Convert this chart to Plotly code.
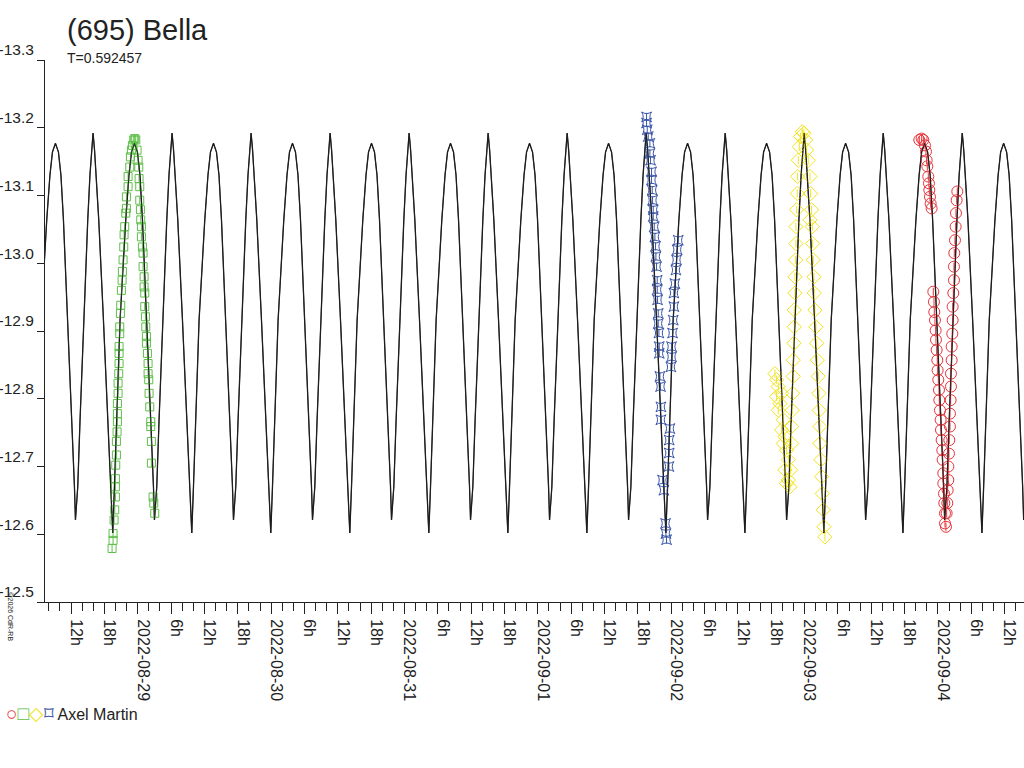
import pandas as pd
import plotly.graph_objects as go

base = pd.Timestamp("2022-08-28")
period_days = 0.592457

# model lightcurve, one rotation (hours from a minimum, mag)
curve_h = [0.000, 0.306, 0.720, 1.314, 2.340, 2.916, 3.366, 3.906, 4.446, 4.896,
           5.346, 6.120, 6.840, 7.326, 7.506, 7.920, 8.334, 9.000, 9.720, 10.116,
           10.404, 10.674, 10.944, 11.232, 11.700, 12.546, 13.320, 13.806]
curve_mag = [-12.602, -12.670, -12.769, -12.916, -13.064, -13.130, -13.164, -13.177, -13.164, -13.130,
             -13.064, -12.916, -12.769, -12.670, -12.621, -12.670, -12.769, -12.916, -13.064, -13.130,
             -13.167, -13.192, -13.167, -13.130, -13.064, -12.916, -12.769, -12.670]
curve_epoch_h = 47.94
curve_cycles = list(range(-4, 10))

# observations, hours after 2022-08-28 00:00
green_h = [19.38, 19.56, 19.56, 19.74, 19.86, 19.98, 19.98, 19.98, 20.04, 20.16, 20.16, 20.28,
           20.34, 20.34, 20.34, 20.46, 20.46, 20.58, 20.64, 20.64, 20.64, 20.76, 20.76, 20.88,
           20.94, 21.06, 21.18, 21.24, 21.36, 21.48, 21.54, 21.66, 21.84, 21.96, 21.96, 22.26,
           22.26, 22.56, 22.68, 22.86, 23.04, 23.28, 23.46, 23.64, 23.88, 24.06, 24.18, 24.24,
           24.36, 24.36, 24.48, 24.54, 24.66, 24.66, 24.84, 24.96, 24.96, 25.14, 25.14, 25.26,
           25.26, 25.38, 25.44, 25.56, 25.56, 25.74, 25.86, 25.86, 25.98, 26.04, 26.16, 26.34,
           26.34, 26.46, 26.46, 26.76, 26.88, 27.06]
green_mag = [-12.579, -12.591, -12.601, -12.621, -12.636, -12.655, -12.670, -12.682, -12.702, -12.717, -12.737, -12.751,
             -12.766, -12.778, -12.793, -12.808, -12.823, -12.837, -12.852, -12.867, -12.877, -12.896, -12.906, -12.926,
             -12.938, -12.960, -12.975, -12.988, -13.005, -13.024, -13.042, -13.054, -13.074, -13.081, -13.098, -13.113,
             -13.128, -13.142, -13.157, -13.167, -13.174, -13.182, -13.184, -13.182, -13.167, -13.152, -13.142, -13.125,
             -13.113, -13.093, -13.079, -13.064, -13.054, -13.039, -13.024, -13.015, -12.995, -12.980, -12.965, -12.956,
             -12.936, -12.921, -12.906, -12.892, -12.882, -12.867, -12.852, -12.837, -12.828, -12.808, -12.788, -12.766,
             -12.759, -12.737, -12.705, -12.655, -12.646, -12.631]

blue_h = [115.56, 115.56, 115.68, 115.86, 116.16, 116.16, 116.28, 116.46, 116.46, 116.58, 116.64, 116.76,
          116.76, 116.94, 117.06, 117.18, 117.24, 117.36, 117.48, 117.48, 117.54, 117.66, 117.66, 117.78,
          117.84, 117.84, 117.96, 118.08, 118.14, 118.14, 118.44, 118.68, 118.98, 119.04, 119.16,
          119.58, 119.64, 119.64, 119.76, 119.94, 120.06, 120.06, 120.24, 120.36, 120.48, 120.48,
          120.66, 120.84, 120.96, 121.08, 121.26]
blue_mag = [-13.216, -13.207, -13.197, -13.187, -13.177, -13.162, -13.152, -13.135, -13.123, -13.108, -13.093, -13.079,
            -13.069, -13.054, -13.039, -13.025, -13.010, -12.995, -12.975, -12.961, -12.946, -12.926, -12.911, -12.897,
            -12.877, -12.867, -12.833, -12.818, -12.788, -12.769, -12.680, -12.665, -12.616, -12.601, -12.592,
            -12.700, -12.720, -12.739, -12.756, -12.847, -12.862, -12.877, -12.897, -12.916, -12.936, -12.956,
            -12.970, -12.990, -13.005, -13.020, -13.034]

yellow_h = [138.66, 138.96, 139.26, 138.96, 139.56, 139.86, 139.26, 140.16, 139.86, 140.46, 140.16, 140.76,
            141.06, 140.46, 141.06, 141.36, 140.76, 141.48, 141.66, 141.66, 141.78, 141.84, 141.96, 141.96,
            142.08, 142.14, 142.14, 142.26, 142.26, 142.38, 142.44, 142.44, 142.56, 142.68, 142.74, 142.86,
            143.04, 143.28, 143.58, 143.88, 144.18, 144.36, 144.66, 144.96, 145.08, 145.26, 144.96, 145.38,
            145.44, 145.56, 145.68, 145.74, 145.86, 146.04, 146.16, 146.28, 146.46, 146.58, 146.64, 146.76,
            146.76, 146.94, 147.06, 147.18, 147.36, 147.48, 147.66]
yellow_mag = [-12.837, -12.828, -12.818, -12.803, -12.793, -12.808, -12.783, -12.769, -12.754, -12.744, -12.734, -12.724,
              -12.710, -12.695, -12.680, -12.670, -12.675, -12.695, -12.734, -12.759, -12.783, -12.808, -12.833, -12.857,
              -12.882, -12.906, -12.931, -12.956, -12.980, -13.005, -13.029, -13.054, -13.079, -13.103, -13.128, -13.152,
              -13.172, -13.187, -13.194, -13.192, -13.182, -13.167, -13.152, -13.128, -13.103, -13.079, -13.064, -13.054,
              -13.029, -13.005, -12.980, -12.956, -12.931, -12.906, -12.882, -12.857, -12.833, -12.808, -12.783, -12.759,
              -12.734, -12.710, -12.685, -12.660, -12.636, -12.611, -12.596]

red_h = [164.64, 165.06, 165.36, 165.66, 165.84, 165.96, 166.08, 166.26, 166.38, 166.44, 166.56, 166.68, 166.86,
         167.16, 167.28, 167.34, 167.46, 167.58, 167.64, 167.76, 167.88, 167.94, 168.06, 168.18, 168.24, 168.36,
         168.48, 168.54, 168.66, 168.78, 168.84, 168.96, 168.96, 169.08, 169.14, 169.26, 169.26, 169.44,
         169.56, 169.68, 169.74, 169.86, 169.86, 169.98, 170.04, 170.16, 170.16, 170.28, 170.34, 170.34,
         170.46, 170.46, 170.58, 170.64, 170.64, 170.76, 170.88, 170.88, 170.94, 171.06, 171.18, 171.24,
         171.36, 171.48]
red_mag = [-13.182, -13.184, -13.182, -13.174, -13.165, -13.152, -13.143, -13.128, -13.118, -13.108, -13.098, -13.088, -13.081,
           -12.958, -12.943, -12.928, -12.916, -12.901, -12.887, -12.872, -12.857, -12.842, -12.828, -12.813, -12.798, -12.783,
           -12.769, -12.754, -12.739, -12.724, -12.710, -12.690, -12.675, -12.660, -12.646, -12.631, -12.616, -12.611,
           -12.631, -12.646, -12.665, -12.680, -12.700, -12.719, -12.739, -12.759, -12.778, -12.798, -12.818, -12.837,
           -12.857, -12.877, -12.896, -12.916, -12.936, -12.956, -12.975, -12.995, -13.015, -13.034, -13.054, -13.074,
           -13.093, -13.106]

day_labels = ["2022-08-29", "2022-08-30", "2022-08-31", "2022-09-01", "2022-09-02", "2022-09-03", "2022-09-04"]
hour_labels = ["6h", "12h", "18h"]
y_ticks = [-13.3, -13.2, -13.1, -13.0, -12.9, -12.8, -12.7, -12.6, -12.5]

font = "Liberation Sans, Arial, sans-serif"


def to_time(hours):
    return base + pd.to_timedelta(hours, unit="h")


# repeat the one-rotation model over the whole interval
cx, cy = [], []
for k in curve_cycles:
    for h, m in zip(curve_h, curve_mag):
        cx.append(curve_epoch_h + k * period_days * 24 + h)
        cy.append(m)

fig = go.Figure()
fig.add_trace(go.Scatter(x=to_time(cx), y=cy, mode="lines",
                         line=dict(color="#1e1e1e", width=1.3), showlegend=False))

sets = [
    (green_h, green_mag, "square-open", "#5fbf4a", 8),
    (blue_h, blue_mag, "star-square-open", "#3a55a8", 9),
    (yellow_h, yellow_mag, "diamond-open", "#f2e41c", 11),
    (red_h, red_mag, "circle-open", "#e8333a", 11),
]
for hs, ms, sym, col, sz in sets:
    fig.add_trace(go.Scatter(
        x=to_time(hs), y=ms, mode="markers",
        marker=dict(symbol=sym, color=col, size=sz, line=dict(width=1, color=col)),
        error_y=dict(type="constant", value=0.006, color=col, thickness=1, width=0),
        showlegend=False))
# black model drawn again on top of the points
fig.add_trace(go.Scatter(x=to_time(cx), y=cy, mode="lines",
                         line=dict(color="#1e1e1e", width=1), showlegend=False, opacity=0.8))

tickvals, ticktext = [], []
for d in ["2022-08-28"] + day_labels:
    for j, lab in enumerate([d] + hour_labels):
        t = pd.Timestamp(d) + pd.Timedelta(hours=6 * j)
        if t < pd.Timestamp("2022-08-28 08:00") or t > pd.Timestamp("2022-09-04 15:00"):
            continue
        tickvals.append(t)
        ticktext.append(lab)

fig.update_xaxes(
    range=[to_time(7.31), to_time(183.48)], automargin=False,
    tickvals=tickvals, ticktext=ticktext, tickangle=90,
    ticks="outside", ticklen=11, tickcolor="#222", tickwidth=1,
    minor=dict(dtick=2 * 3600 * 1000, ticks="outside", ticklen=8, tickcolor="#222"),
    ticklabelshift=5, ticklabelstandoff=2,
    tickfont=dict(family=font, size=16, color="#222"),
    showline=True, linecolor="#222", linewidth=1, showgrid=False, zeroline=False,
)
fig.update_yaxes(
    range=[-12.5, -13.3], automargin=False,
    tickvals=y_ticks, ticktext=[f"{v:.1f}" for v in y_ticks],
    ticks="outside", ticklen=7, tickcolor="#222",
    ticklabelshift=10, ticklabelstandoff=0,
    tickfont=dict(family=font, size=15.5, color="#222"),
    showline=True, linecolor="#222", linewidth=1, showgrid=False, zeroline=False,
)

fig.add_annotation(text="(695) Bella", xref="paper", yref="paper", x=0.0204, y=1.055,
                   xanchor="left", yanchor="middle", showarrow=False,
                   font=dict(family=font, size=29, color="#222"))
fig.add_annotation(text="T=0.592457", xref="paper", yref="paper", x=0.0204, y=1.004,
                   xanchor="left", yanchor="middle", showarrow=False,
                   font=dict(family=font, size=14, color="#222"))
fig.add_annotation(
    text="<span style='color:#e8333a;font-size:19px'>○</span><span style='color:#5fbf4a;font-size:19px'>□</span>"
         "<span style='color:#f2e41c;font-size:19px'>◇</span><span style='color:#3a55a8;font-size:19px'>⌑</span> Axel Martin",
    xref="paper", yref="paper", x=-0.042, y=-0.205, xanchor="left", yanchor="middle",
    showarrow=False, font=dict(family=font, size=16, color="#222"))
fig.add_annotation(text="©2026 CdR-RB", xref="paper", yref="paper", x=-0.041, y=-0.076,
                   textangle=90, showarrow=False, font=dict(family=font, size=7, color="#222"))

fig.update_layout(
    width=1024, height=768, autosize=False,
    margin=dict(l=45, r=0, t=60, b=166),
    paper_bgcolor="white", plot_bgcolor="white",
    font=dict(family=font, color="#222"),
)

# drop the browser's default 8 px page margin so the figure sits at the corner
fig.write_html("out.html", config={"displayModeBar": False},
               post_script="document.body.style.margin='0';")
